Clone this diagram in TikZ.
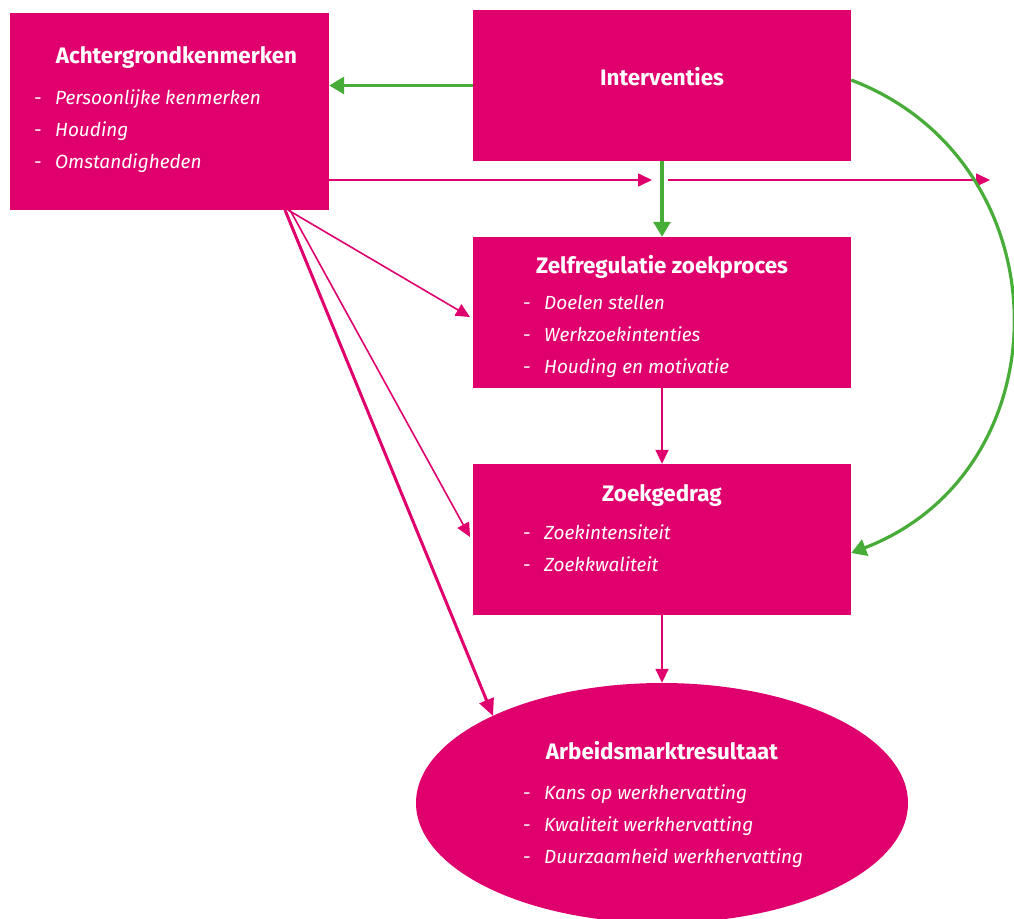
\documentclass[tikz,border=0pt]{standalone}
\usepackage{fontspec}
\setmainfont{Fira Sans}
\usetikzlibrary{arrows.meta,shapes.geometric}
\definecolor{mag}{HTML}{E0006D}
\definecolor{grn}{HTML}{48AD38}
\begin{document}
\begin{tikzpicture}[x=1pt,y=-1pt,
  boxnode/.style={rectangle,fill=mag,draw=none,inner sep=0pt,minimum width=378pt,minimum height=151pt},
  ttl/.style={anchor=base,text=white,font=\bfseries\fontsize{22.4}{26}\selectfont},
  itm/.style={anchor=base west,text=white,inner sep=0pt,font=\itshape\fontsize{19}{23}\selectfont},
  thinarr/.style={draw=mag,line width=1.6pt,-{Triangle[length=14pt,width=13pt]}},
  thickarr/.style={draw=mag,line width=3pt,-{Triangle[length=17pt,width=15pt]}},
  grnarr/.style={draw=grn,line width=3.2pt,-{Triangle[length=15pt,width=17pt]}}]
\clip (0,0) rectangle (1014,918);
\fill[white] (0,0) rectangle (1014,918);
% boxes
\node[boxnode,minimum width=319pt,minimum height=197pt] (ach) at (169.5,111.5) {};
\node[boxnode] (int) at (662,85.5) {};
\node[boxnode] (zel) at (662,312.5) {};
\node[boxnode] (zoe) at (662,539.5) {};
\node[ellipse,fill=mag,inner sep=0pt,minimum width=492pt,minimum height=240pt] (arb) at (662,803) {};
% texts
\newcommand{\dsh}{\makebox[21pt][l]{\upshape -}}
\node[ttl] (achT) at (176.5,63) {Achtergrondkenmerken};
\node[itm] (achA) at (34,104) {\dsh Persoonlijke kenmerken};
\node[itm] (achB) at (34,136) {\dsh Houding};
\node[itm] (achC) at (34,168) {\dsh Omstandigheden};
\node[ttl] (intT) at (662,85) {Interventies};
\node[ttl] (zelT) at (662,273) {Zelfregulatie zoekproces};
\node[itm] (zelA) at (523,309) {\dsh Doelen stellen};
\node[itm] (zelB) at (523,341) {\dsh Werkzoekintenties};
\node[itm] (zelC) at (523,373) {\dsh Houding en motivatie};
\node[ttl] (zoeT) at (662,501) {Zoekgedrag};
\node[itm] (zoeA) at (523,539) {\dsh Zoekintensiteit};
\node[itm] (zoeB) at (523,571) {\dsh Zoekkwaliteit};
\node[ttl] (arbT) at (662,759) {Arbeidsmarktresultaat};
\node[itm] (arbA) at (523,799) {\dsh Kans op werkhervatting};
\node[itm] (arbB) at (523,831) {\dsh Kwaliteit werkhervatting};
\node[itm] (arbC) at (523,863) {\dsh Duurzaamheid werkhervatting};
% free coordinates
\coordinate (g1) at (652,180);
\coordinate (g2) at (668,180);
\coordinate (g3) at (990,180);
\coordinate (s1) at (288,210);
\coordinate (s2) at (290,210);
\coordinate (s3) at (285,210);
\coordinate (e1) at (470,317);
\coordinate (e2) at (470,537);
\coordinate (e3) at (493,716);
% connectors
\draw[thinarr] (ach.east |- g1) -- (g1);
\draw[thinarr] (g2) -- (g3);
\draw[thinarr] (s1) -- (e1);
\draw[thinarr] (s2) -- (e2);
\draw[thickarr] (s3) -- (e3);
\draw[thinarr] (zel.south) -- (zoe.north);
\draw[thinarr] (zoe.south) -- (arb.north);
\draw[grnarr] (int.west) -- (int.west -| ach.east);
\draw[grnarr] (int.south) -- (zel.north);
\draw[grnarr] ([yshift=5.5pt]int.east) to[out=-21,in=21,looseness=1.25] ([yshift=-13.5pt]zoe.east);
\end{tikzpicture}
\end{document}
